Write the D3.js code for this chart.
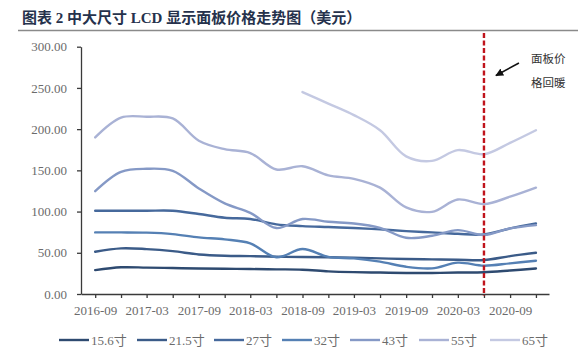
<!DOCTYPE html>
<html><head><meta charset="utf-8">
<script src="https://cdn.jsdelivr.net/npm/d3@7"></script>
<style>
html,body{margin:0;padding:0;background:#fff;}
svg{display:block;}
text{font-family:"Liberation Serif","Noto Sans CJK SC",serif;}
</style></head>
<body>
<svg id="chart" width="578" height="356"></svg>
<script>
// ---- data ----
const dates = ["2016-09","2016-12","2017-03","2017-06","2017-09","2017-12","2018-03","2018-06","2018-09",
               "2018-12","2019-03","2019-06","2019-09","2019-12","2020-03","2020-06","2020-09","2020-12"];
const s15_6 = [29,32.4,32,31.5,31,30.7,30.3,29.9,29.5,27.5,26.5,26,25.5,25.5,26,26.3,28.5,31];
const s21_5 = [51.3,55.4,54.5,52,48,46.4,46,45.2,44.8,44.5,44,43.2,42.4,42,41.6,41.2,46,50];
const s27   = [101,101,101,101,97,92.5,91,84.5,82.4,81.2,80,78.4,76.3,74.7,73,72.3,79.6,85.6];
const s32   = [74.7,74.7,74.4,72.7,68.7,66.2,61.4,44.5,54.5,45,43.2,39.2,33,31.1,38,34.3,37.2,40.4];
const s43   = [124.8,148.2,151.9,149.4,128,109.9,98.5,80,91,87.6,85.6,80.3,68.2,70.6,77.5,71.5,79.6,83.6];
const s55   = [190,214,215,213,186,175.7,171,151,155,144,139.7,129,105,99.7,114.7,109,118,129];
const s65   = [null,null,null,null,null,null,null,null,245,231,217,198.7,167,161.5,174.5,169.6,183.4,198.7];
const seriesNames = ["15.6寸","21.5寸","27寸","32寸","43寸","55寸","65寸"];
const seriesValues = [s15_6,s21_5,s27,s32,s43,s55,s65];
const colors = ["#2e4a70","#3b5b88","#46699c","#5580b4","#8599c6","#a9b2d5","#c4c9e2"];
const yTicks = [0,50,100,150,200,250,300];
const markerDate = "2020-06";
const title = "图表 2 中大尺寸 LCD 显示面板价格走势图（美元）";
const noteLines = ["面板价","格回暖"];

// ---- setup ----
const parse = d3.timeParse("%Y-%m");
const svg = d3.select("#chart");
const pL = 81, pR = 549, pT = 46.7, pB = 294;

const x = d3.scaleTime()
  .domain([new Date(2016,6,13), new Date(2021,0,16)])
  .range([pL, pR]);
const y = d3.scaleLinear().domain([0,300]).range([pB, pT]);

// title
svg.append("text").attr("x",22).attr("y",23)
  .attr("font-size",15).attr("font-weight","bold").attr("fill","#26324c")
  .text(title);
svg.append("line").attr("x1",18).attr("x2",578).attr("y1",30.5).attr("y2",30.5)
  .attr("stroke","#8a8a8a").attr("stroke-width",1.5);

// y axis
const gy = svg.append("g").attr("transform",`translate(${pL},0)`)
  .call(d3.axisLeft(y).tickValues(yTicks).tickFormat(d3.format(".2f"))
        .tickSize(4).tickSizeOuter(0).tickPadding(10));
gy.selectAll("text").attr("font-size",13).attr("fill","#6b6b6b")
  .attr("font-family","Liberation Serif");
gy.selectAll("line,path").attr("stroke","#3a3a3a").attr("stroke-width",1.3);

// x axis
const qDates = dates.map(parse);
const gx = svg.append("g").attr("transform",`translate(0,${pB})`)
  .call(d3.axisBottom(x).tickValues(qDates)
        .tickFormat(d => (d.getMonth()===2 || d.getMonth()===8) ? d3.timeFormat("%Y-%m")(d) : "")
        .tickSize(4).tickSizeOuter(0).tickPadding(8));
gx.selectAll("text").attr("font-size",13).attr("fill","#6b6b6b")
  .attr("font-family","Liberation Serif");
gx.selectAll("line,path").attr("stroke","#3a3a3a").attr("stroke-width",1.3);

// lines
const line = d3.line()
  .defined(d => d.v != null)
  .x(d => x(d.date)).y(d => y(d.v))
  .curve(d3.curveCatmullRom.alpha(0.5));
seriesValues.forEach((vals,i) => {
  const pts = vals.map((v,j) => ({date: qDates[j], v}));
  svg.append("path").datum(pts).attr("d", line)
    .attr("fill","none").attr("stroke", colors[i]).attr("stroke-width",2.4)
    .attr("stroke-linecap","round");
});

// red dashed marker
const mx = x(parse(markerDate));
svg.append("line").attr("x1",mx).attr("x2",mx).attr("y1",33).attr("y2",pB+2)
  .attr("stroke","#c0141c").attr("stroke-width",2.4).attr("stroke-dasharray","5,2.5");

// annotation
svg.append("defs").append("marker").attr("id","arr")
  .attr("viewBox","0 0 10 10").attr("refX",9).attr("refY",5)
  .attr("markerWidth",5).attr("markerHeight",5).attr("orient","auto")
  .append("path").attr("d","M0,0 L10,5 L0,10 z").attr("fill","#111");
svg.append("line").attr("x1",mx+35).attr("y1",63).attr("x2",mx+12).attr("y2",75.5)
  .attr("stroke","#111").attr("stroke-width",1.6).attr("marker-end","url(#arr)");
noteLines.forEach((t,i) => {
  svg.append("text").attr("x",mx+47).attr("y",63 + i*24)
    .attr("font-size",11.5).attr("fill","#333")
    .attr("font-family","Noto Sans CJK SC")
    .text(t);
});

// legend
const legX = [59,137,214,282,350,419,490];
const legY = 340;
seriesNames.forEach((n,i) => {
  const g = svg.append("g").attr("transform",`translate(${legX[i]},${legY})`);
  g.append("line").attr("x1",0).attr("x2",30).attr("y1",0).attr("y2",0)
    .attr("stroke",colors[i]).attr("stroke-width",2.4);
  g.append("text").attr("x",32).attr("y",4.5).attr("font-size",13)
    .attr("fill","#6b6b6b").text(n);
});
</script>
</body></html>
